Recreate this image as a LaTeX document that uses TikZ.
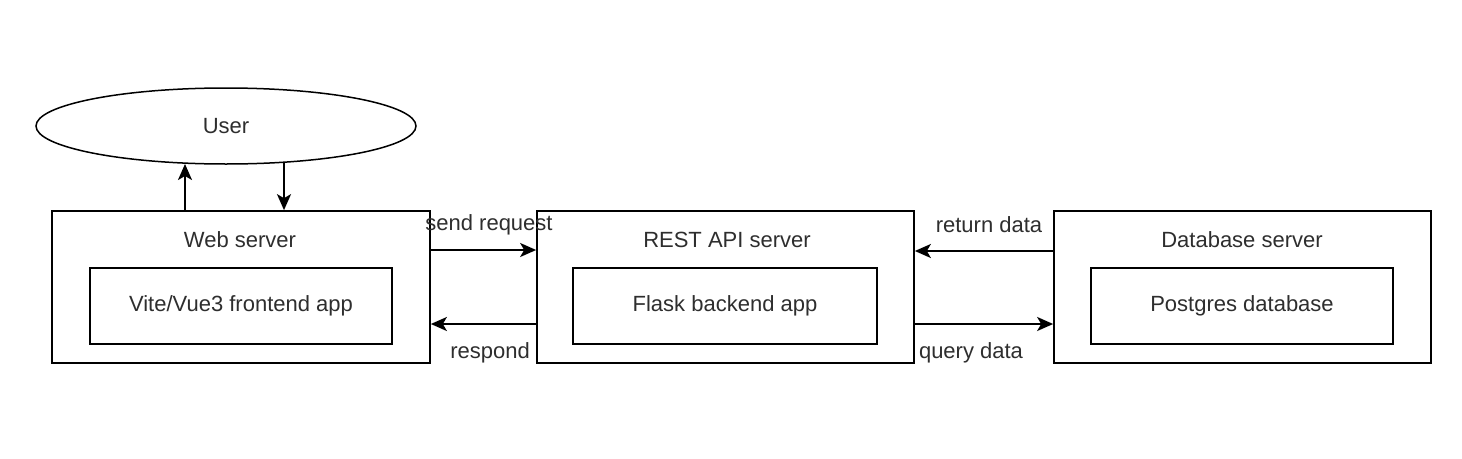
\documentclass[tikz,border=0pt]{standalone}
\usepackage{fontspec}
\setmainfont{Liberation Sans}
\usetikzlibrary{shapes.geometric,arrows.meta,calc}
\begin{document}
\begin{tikzpicture}[x=1pt,y=-1pt,
  box/.style={draw=black,line width=1.7pt,rectangle,inner sep=0pt},
  lbl/.style={font=\fontsize{22}{26}\selectfont,text=black!82,inner sep=0pt},
  arr/.style={line width=2pt,-{Stealth[length=16pt,width=14pt,inset=4pt]}}]
\useasboundingbox (0,0) rectangle (1462,458);
\fill[white] (0,0) rectangle (1462,458);
% user
\node[draw=black,line width=1.5pt,ellipse,minimum width=380pt,minimum height=76pt,inner sep=0pt,lbl] (user) at (226,126) {User};
% outer boxes
\node[box,minimum width=378pt,minimum height=152pt] (web) at (241,287) {};
\node[box,minimum width=377pt,minimum height=152pt] (rest) at (725.5,287) {};
\node[box,minimum width=377pt,minimum height=152pt] (db) at (1242.5,287) {};
% inner boxes
\node[box,minimum width=302pt,minimum height=76pt,lbl] (webin) at (241,306) {Vite/Vue3 frontend app};
\node[box,minimum width=304pt,minimum height=76pt,lbl] (restin) at (725,306) {Flask backend app};
\node[box,minimum width=302pt,minimum height=76pt,lbl] (dbin) at (1242,306) {Postgres database};
% titles
\node[lbl] (webt) at (240,240) {Web server};
\node[lbl] (restt) at (727,240) {REST API server};
\node[lbl] (dbt) at (1242,240) {Database server};
% user arrows
\coordinate (upt) at (185,164);
\coordinate (dnt) at (284,162);
\draw[arr] (web.north -| upt) -- (upt);
\draw[arr] (dnt) -- (web.north -| dnt);
% horizontal arrows
\draw[arr] (web.east |- 0,250) -- (rest.west |- 0,250);
\draw[arr] (rest.west |- 0,324) -- (web.east |- 0,324);
\draw[arr] (db.west |- 0,251) -- (rest.east |- 0,251);
\draw[arr] (rest.east |- 0,324) -- (db.west |- 0,324);
% labels
\node[lbl] (sr) at (489,225) {send request};
\node[lbl] (rp) at (490,353) {respond};
\node[lbl] (rd) at (989,225) {return data};
\node[lbl] (qd) at (971,353) {query data};
\end{tikzpicture}
\end{document}
